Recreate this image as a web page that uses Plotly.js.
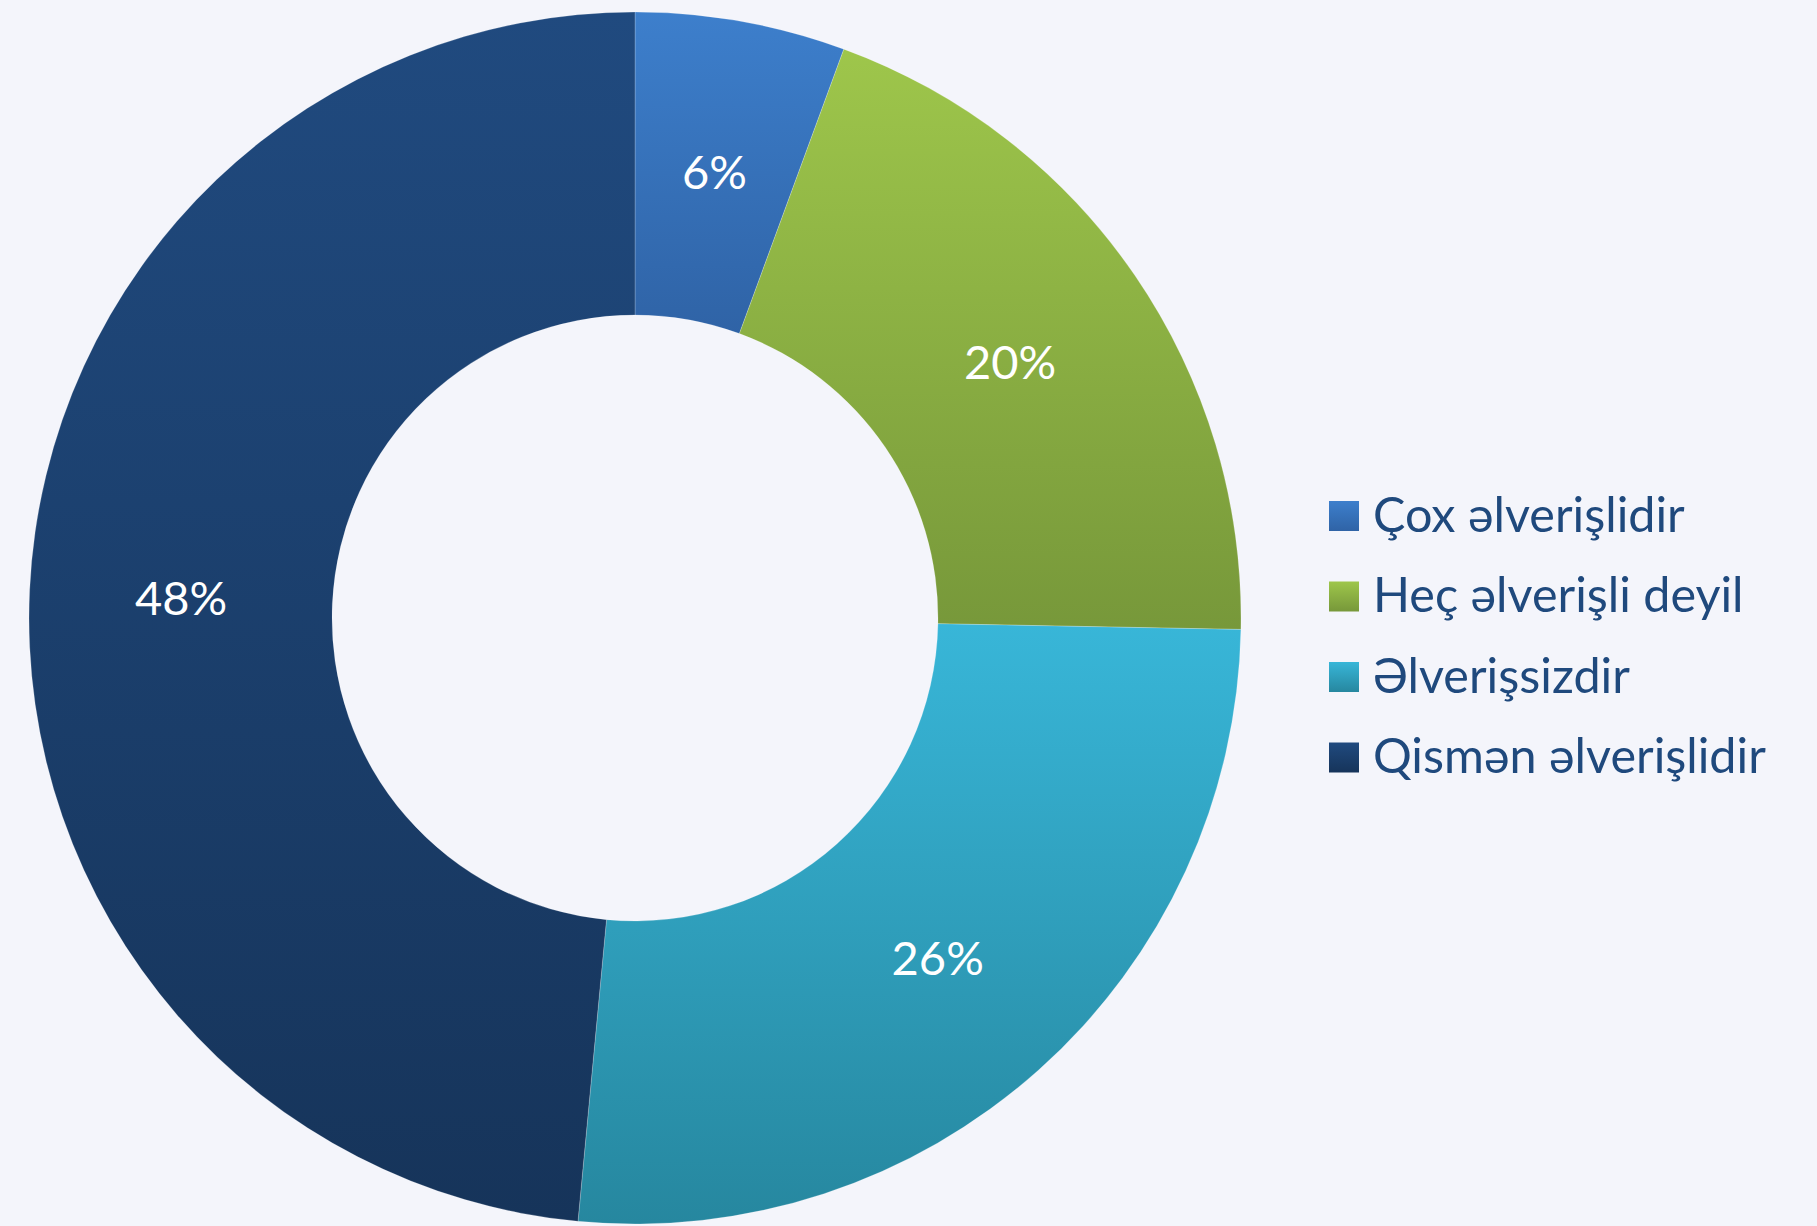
<!DOCTYPE html>
<html>
<head>
<meta charset="utf-8">
<script src="https://cdn.plot.ly/plotly-3.0.1.min.js"></script>
<style>
html,body{margin:0;padding:0;background:#f4f5fb;}
#chart{width:1817px;height:1226px;}
</style>
</head>
<body>
<div id="chart"></div>
<script>
// Data
const categories = ['Çox əlverişlidir', 'Heç əlverişli deyil', 'Əlverişsizdir', 'Qismən əlverişlidir'];
const shares = [5.6, 19.7, 26.2, 48.5];
const shareLabels = ['6%', '20%', '26%', '48%'];

// Styles
const baseColors = ['#3672bb', '#8cb043', '#31a7c6', '#1b3f6c'];
const gradTop = ['#3d7fcc', '#9ec64b', '#38b6d8', '#204a7f'];
const gradBottom = ['#2f63a6', '#77983a', '#26879f', '#16345a'];

const W = 1817, H = 1226;
const TOP = 12, BOT = 2;
const plotH = H - TOP - BOT;
const cx = 635, R = plotH / 2, HOLE = 0.5;
const labelFont = {family: 'Lato, "Open Sans", sans-serif', size: 47, color: '#ffffff'};

// first (thin) slice label placed via annotation at the ring's mid radius, slice mid angle
const total = shares.reduce((a, b) => a + b, 0);
const midAng0 = (shares[0] / total) * Math.PI; // half of slice angle, from 12 o'clock clockwise
const rMid = R * (1 + HOLE) / 2;

const trace = {
  type: 'pie',
  labels: categories,
  values: shares,
  text: shareLabels,
  textinfo: 'text',
  textposition: ['none', 'inside', 'inside', 'inside'],
  insidetextorientation: 'horizontal',
  sort: false,
  direction: 'clockwise',
  rotation: 0,
  hole: HOLE,
  marker: {colors: baseColors, line: {color: 'rgba(255,255,255,0.35)', width: 0.6}},
  insidetextfont: labelFont,
  domain: {x: [(cx - R) / W, (cx + R) / W], y: [0, 1]},
  hoverinfo: 'none'
};

const layout = {
  width: W, height: H,
  margin: {l: 0, r: 0, t: TOP, b: BOT},
  paper_bgcolor: '#f4f5fb',
  plot_bgcolor: '#f4f5fb',
  showlegend: true,
  legend: {
    x: 1333 / W, xanchor: 'left',
    y: 0.5, yanchor: 'middle',
    font: {family: 'Lato, "Open Sans", sans-serif', size: 48.5, color: '#1f497d'},
    bgcolor: 'rgba(0,0,0,0)',
    borderwidth: 0
  },
  annotations: [{
    xref: 'paper', yref: 'paper',
    x: (cx + rMid * Math.sin(midAng0)) / W,
    y: 0.5 + (rMid * Math.cos(midAng0)) / plotH,
    text: shareLabels[0], showarrow: false,
    font: labelFont, xanchor: 'center', yanchor: 'middle'
  }]
};

Plotly.newPlot('chart', [trace], layout, {staticPlot: true, displayModeBar: false}).then(function (gd) {
  const svg = gd.querySelector('.main-svg');
  const NS = 'http://www.w3.org/2000/svg';
  const defs = document.createElementNS(NS, 'defs');
  for (let i = 0; i < categories.length; i++) {
    const lg = document.createElementNS(NS, 'linearGradient');
    lg.setAttribute('id', 'sliceGrad' + i);
    lg.setAttribute('x1', '0'); lg.setAttribute('y1', '0');
    lg.setAttribute('x2', '0'); lg.setAttribute('y2', '1');
    const s1 = document.createElementNS(NS, 'stop');
    s1.setAttribute('offset', '0'); s1.setAttribute('stop-color', gradTop[i]);
    const s2 = document.createElementNS(NS, 'stop');
    s2.setAttribute('offset', '1'); s2.setAttribute('stop-color', gradBottom[i]);
    lg.appendChild(s1); lg.appendChild(s2);
    defs.appendChild(lg);
  }
  svg.insertBefore(defs, svg.firstChild);

  gd.querySelectorAll('.pielayer .slice').forEach(function (sl, i) {
    const p = sl.querySelector('path.surface');
    if (p) p.style.fill = 'url(#sliceGrad' + i + ')';
  });

  // legend: remove clipping, enlarge symbols, set row spacing
  gd.querySelectorAll('.legend [clip-path]').forEach(function (el) { el.removeAttribute('clip-path'); });
  const items = gd.querySelectorAll('.legend .traces');
  const sqLeft = 1329, sqSize = 30, rowY0 = 516, rowStep = 80.5;
  items.forEach(function (it, i) {
    const p = it.querySelector('.legendpoints path');
    if (!p) return;
    p.style.fill = 'url(#sliceGrad' + i + ')';
    p.style.strokeWidth = '0';
    const t0 = p.getAttribute('transform') || '';
    const b0 = p.getBoundingClientRect();
    const s = sqSize / b0.width;
    p.setAttribute('transform', t0 + ' scale(' + s + ')');
    const b1 = p.getBoundingClientRect();
    const dx = (sqLeft + sqSize / 2) - (b1.left + b1.width / 2);
    p.setAttribute('transform', t0 + ' translate(' + dx + ',0) scale(' + s + ')');
    // vertical shift of whole item
    const tr = it.getAttribute('transform') || '';
    const m = tr.match(/translate\(([-\d.]+)[ ,]+([-\d.]+)\)/);
    const x = m ? parseFloat(m[1]) : 0;
    const y = m ? parseFloat(m[2]) : 0;
    const b2 = p.getBoundingClientRect();
    const dy = (rowY0 + i * rowStep) - (b2.top + b2.height / 2);
    it.setAttribute('transform', 'translate(' + x + ',' + (y + dy) + ')');
    // nudge text slightly up relative to the square
    const txt = it.querySelector('text.legendtext');
    if (txt) {
      const ty = parseFloat(txt.getAttribute('y') || '0');
      txt.setAttribute('y', ty - 3);
    }
  });
});
</script>
</body>
</html>
